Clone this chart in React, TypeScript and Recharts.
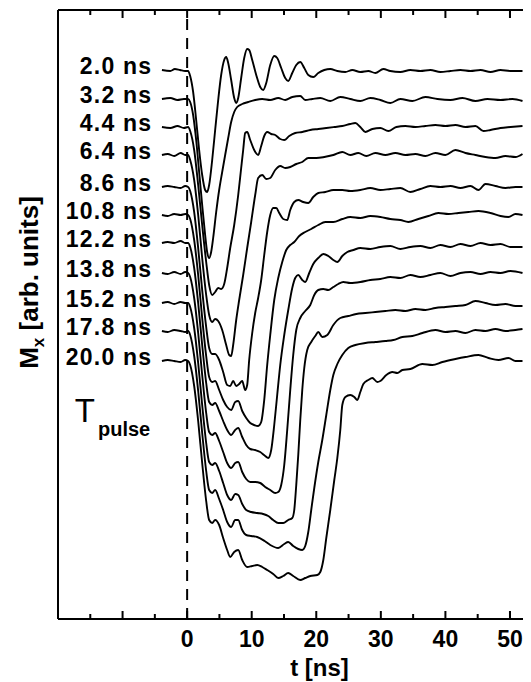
import { LineChart, Line, XAxis, YAxis, ReferenceLine, ReferenceDot, Label } from 'recharts';

type Pt = [number, number];

const FONT = '"Liberation Sans", Arial, Helvetica, sans-serif';

// pulse lengths, top to bottom
const pulseLabels = ['2.0 ns', '3.2 ns', '4.4 ns', '6.4 ns', '8.6 ns', '10.8 ns', '12.2 ns', '13.8 ns', '15.2 ns', '17.8 ns', '20.0 ns'];
// vertical offset of each trace (arb. units)
const offsets = [549, 520, 492, 464, 432, 404, 376, 346, 316, 288, 258];

const xTicks = [-20, -15, -10, -5, 0, 5, 10, 15, 20, 25, 30, 35, 40, 45, 50, 55, 60];
const labelledTicks = [0, 10, 20, 30, 40, 50];

// [t (ns), Mx change (arb. units)]
const trace20: Pt[] = [[-3.9,0],[-2.6,-1],[-1.9,1],[-1.1,0],[-0.3,-1],[0.15,-1],[0.47,-6],[0.93,-22],[1.4,-50],[1.86,-80],[2.33,-105],[2.79,-120],[3.1,-122],[3.41,-115],[3.88,-90],[4.34,-60],[4.81,-30],[5.27,-5],[5.74,10],[6.05,13],[6.36,7],[6.82,-10],[7.29,-28],[7.6,-33],[7.91,-28],[8.37,-8],[8.84,12],[9.3,21],[9.61,20],[10.08,10],[10.7,-5],[11.32,-17],[11.78,-20],[12.25,-13],[12.87,5],[13.49,14],[13.95,12],[14.57,2],[15.19,-8],[15.66,-11],[16.28,-3],[16.9,5],[17.52,8],[18.14,2],[18.76,-5],[19.53,-7],[20.31,-3],[21.24,0],[22.17,1],[23.26,-1],[24.5,-2],[25.58,0],[26.82,-2],[28.06,-1],[29.15,-3],[30.39,1],[31.47,-1],[33.02,-2],[34.57,0],[36.12,-1],[37.67,0],[39.22,-2],[40.78,-1],[42.33,0],[43.88,-1],[45.43,0],[46.98,-2],[48.53,0],[50.08,-1],[51.94,-1]];
const trace32: Pt[] = [[-3.9,0],[-2.6,1],[-1.5,-1],[-0.5,0],[0.15,0],[0.47,-3],[0.93,-16],[1.4,-41],[1.86,-73],[2.33,-106],[2.79,-136],[3.1,-153],[3.41,-159],[3.72,-153],[4.03,-139],[4.5,-113],[4.96,-91],[5.43,-73],[5.89,-56],[6.36,-39],[6.82,-23],[7.29,-13],[7.75,-8],[8.53,-5],[9.46,-3],[10.54,-1],[11.63,0],[12.87,-1],[14.11,1],[15.19,-1],[16.28,2],[17.52,3],[18.29,-1],[19.38,0],[20.62,1],[22.17,-2],[23.72,2],[25.27,0],[26.82,-2],[28.37,1],[29.92,-1],[31.47,-4],[33.02,0],[34.88,-2],[36.9,2],[38.76,0],[40.78,-1],[42.64,1],[44.65,-2],[46.51,0],[48.53,-1],[50.39,0],[51.94,-2]];
const trace44: Pt[] = [[-3.9,0],[-2.6,-1],[-1.5,1],[-0.5,-1],[0.15,0],[0.47,-4],[1.09,-23],[1.71,-58],[2.33,-98],[2.95,-135],[3.41,-158],[3.88,-168],[4.34,-165],[4.81,-161],[5.27,-162],[5.74,-157],[6.2,-141],[6.67,-121],[7.29,-98],[7.91,-68],[8.37,-41],[8.68,-23],[8.99,-6],[9.3,-5],[9.77,-13],[10.39,-23],[11.0,-28],[11.47,-19],[11.94,-9],[12.4,-5],[13.02,-7],[13.64,-8],[14.42,-12],[15.04,-13],[15.81,-9],[16.74,-6],[17.83,-5],[19.07,-3],[20.31,-2],[21.55,-1],[22.79,0],[24.03,1],[25.27,3],[26.05,4],[26.82,0],[27.6,-5],[28.68,-2],[29.92,-1],[31.16,-4],[32.4,0],[33.8,1],[35.35,0],[36.9,1],[38.45,2],[40.0,1],[41.55,2],[43.1,0],[44.65,1],[45.89,-4],[46.98,-3],[48.53,-1],[50.08,0],[51.94,1]];
const trace64: Pt[] = [[-3.9,0],[-3,1],[-2,-1],[-1,2],[-0.3,0],[0.15,0],[0.47,-5],[1.09,-25],[1.71,-60],[2.33,-103],[2.95,-140],[3.41,-160],[3.88,-167],[4.34,-164],[4.81,-166],[5.43,-175],[6.05,-190],[6.51,-200],[6.82,-201],[7.13,-190],[7.6,-165],[8.06,-145],[8.68,-120],[9.3,-93],[9.92,-67],[10.54,-40],[11.0,-23],[11.63,-20],[12.25,-24],[12.87,-23],[13.64,-15],[14.42,-11],[15.19,-13],[15.97,-12],[16.9,-9],[17.83,-7],[18.76,-3],[20.0,-3],[21.24,-2],[22.64,0],[24.03,3],[25.27,0],[26.51,2],[27.75,-1],[29.15,2],[30.7,0],[32.25,2],[33.8,0],[35.35,1],[36.9,-1],[38.45,2],[40.0,0],[41.55,5],[43.1,2],[44.65,0],[46.2,-2],[47.75,-3],[49.3,-1],[50.85,-2],[51.94,1]];
const trace86: Pt[] = [[-3.9,0],[-3,1],[-2,0],[-1,-1],[-0.3,1],[0.15,0],[0.47,-4],[1.09,-25],[1.71,-61],[2.33,-103],[2.95,-140],[3.41,-161],[3.88,-167],[4.34,-167],[4.96,-173],[5.58,-185],[6.2,-198],[6.67,-199],[7.13,-194],[7.6,-199],[8.06,-197],[8.53,-194],[8.99,-203],[9.3,-198],[9.61,-173],[10.08,-146],[10.54,-126],[11.0,-111],[11.47,-93],[11.94,-68],[12.4,-45],[12.87,-28],[13.33,-21],[13.8,-21],[14.26,-26],[14.88,-32],[15.5,-33],[15.97,-23],[16.59,-15],[17.21,-13],[17.98,-15],[18.76,-16],[19.53,-10],[20.31,-6],[21.4,-5],[22.64,-3],[24.03,-3],[25.27,-4],[26.82,-3],[28.37,-1],[29.92,-3],[31.47,-2],[33.02,-1],[34.57,-5],[36.12,-2],[37.67,1],[39.22,0],[40.78,1],[42.33,-1],[43.88,1],[45.12,-3],[46.2,3],[47.75,1],[49.3,-1],[50.85,0],[51.94,0]];
const trace108: Pt[] = [[-3.9,0],[-3,-1],[-2,1],[-1,0],[-0.3,1],[0.15,0],[0.47,-4],[1.09,-25],[1.71,-60],[2.33,-103],[2.95,-141],[3.41,-162],[3.88,-167],[4.34,-166],[4.96,-175],[5.58,-185],[6.2,-192],[6.82,-195],[7.44,-187],[7.91,-186],[8.53,-196],[9.15,-203],[9.77,-208],[10.39,-210],[11.0,-211],[11.47,-207],[11.94,-185],[12.4,-150],[12.87,-120],[13.49,-85],[14.11,-63],[14.73,-47],[15.35,-35],[15.97,-30],[16.59,-27],[17.36,-21],[18.29,-17],[19.22,-14],[20.31,-10],[21.4,-7],[22.64,-7],[24.03,-4],[25.27,-2],[26.82,-3],[28.37,-1],[29.92,-2],[31.47,-4],[33.02,-5],[34.26,-7],[35.81,-4],[37.36,-1],[38.91,2],[40.47,1],[42.02,2],[43.57,3],[45.12,4],[46.98,2],[48.53,-1],[49.77,-2],[50.85,1],[51.94,0]];
const trace122: Pt[] = [[-3.9,0],[-3,1],[-2,0],[-1,2],[-0.3,0],[0.15,0],[0.47,-4],[1.09,-25],[1.71,-60],[2.33,-102],[2.95,-140],[3.41,-159],[3.88,-162],[4.34,-160],[4.96,-168],[5.58,-178],[6.2,-187],[6.82,-192],[7.44,-187],[7.91,-185],[8.53,-194],[9.15,-202],[9.77,-206],[10.54,-207],[11.32,-209],[12.09,-213],[12.56,-215],[13.02,-207],[13.49,-182],[13.95,-152],[14.42,-122],[15.04,-92],[15.66,-67],[16.28,-45],[16.74,-35],[17.21,-32],[17.83,-37],[18.29,-39],[18.91,-30],[19.53,-21],[20.31,-15],[21.09,-11],[21.86,-13],[22.64,-17],[23.26,-19],[24.03,-13],[24.81,-9],[25.74,-7],[26.82,-5],[28.37,-6],[29.92,-4],[31.47,-3],[33.02,-6],[34.57,-4],[36.12,-3],[37.67,-5],[39.22,-2],[40.78,-4],[42.33,-1],[43.88,-3],[45.43,0],[46.98,-2],[48.53,-1],[50.08,-4],[51.94,-4]];
const trace138: Pt[] = [[-3.9,0],[-3,-1],[-2,1],[-1,-1],[-0.3,1],[0.15,0],[0.47,-4],[1.09,-25],[1.71,-60],[2.33,-102],[2.95,-140],[3.41,-159],[3.88,-162],[4.34,-160],[4.96,-168],[5.58,-179],[6.2,-190],[6.82,-195],[7.44,-190],[7.91,-189],[8.53,-199],[9.15,-206],[9.77,-209],[10.54,-209],[11.32,-210],[12.09,-214],[12.87,-217],[13.64,-220],[14.11,-219],[14.57,-212],[15.04,-192],[15.5,-157],[15.97,-117],[16.43,-82],[16.9,-57],[17.52,-45],[18.29,-38],[19.07,-32],[19.69,-22],[20.31,-17],[21.09,-16],[21.86,-17],[22.64,-14],[23.41,-11],[24.19,-9],[25.27,-10],[26.82,-9],[28.37,-7],[29.92,-6],[31.47,-4],[33.02,-5],[34.57,-2],[36.12,-4],[37.67,-2],[39.22,0],[40.78,-3],[42.33,0],[43.88,1],[45.43,-1],[46.98,1],[48.53,0],[50.08,2],[51.94,0]];
const trace152: Pt[] = [[-3.9,0],[-3,1],[-2,-1],[-1,1],[-0.3,0],[0.15,0],[0.47,-4],[1.09,-25],[1.71,-60],[2.33,-102],[2.95,-140],[3.41,-159],[3.88,-162],[4.34,-160],[4.96,-168],[5.58,-180],[6.2,-192],[6.82,-197],[7.44,-191],[7.91,-192],[8.53,-201],[9.15,-207],[9.92,-209],[10.85,-210],[11.78,-211],[12.56,-213],[13.33,-217],[14.11,-220],[14.88,-220],[15.66,-217],[16.28,-215],[16.59,-207],[16.9,-182],[17.21,-152],[17.52,-117],[17.83,-87],[18.14,-65],[18.6,-47],[19.22,-39],[19.84,-33],[20.31,-29],[20.93,-34],[21.71,-32],[22.64,-22],[23.72,-15],[24.96,-13],[26.2,-11],[27.6,-10],[29.15,-9],[30.7,-8],[32.25,-7],[33.8,-8],[35.35,-6],[36.9,-7],[38.45,-5],[40.0,-4],[41.55,-3],[43.1,-2],[44.65,2],[46.2,0],[47.75,-2],[49.3,-1],[50.85,-3],[51.94,-3]];
const trace178: Pt[] = [[-3.9,0],[-3,-1],[-2,1],[-1,0],[-0.3,-1],[0.15,0],[0.47,-4],[1.09,-25],[1.71,-60],[2.33,-102],[2.95,-140],[3.41,-159],[3.88,-162],[4.34,-159],[4.96,-168],[5.58,-179],[6.2,-191],[6.82,-196],[7.44,-189],[7.91,-189],[8.53,-199],[9.15,-204],[9.92,-205],[10.85,-206],[12.0,-210],[12.87,-214],[14.11,-217],[15.04,-213],[15.66,-211],[16.43,-215],[17.21,-218],[17.83,-219],[18.29,-215],[18.76,-201],[19.22,-179],[19.69,-157],[20.31,-131],[20.93,-109],[21.55,-84],[22.17,-59],[22.64,-44],[23.26,-33],[24.03,-24],[24.96,-17],[26.05,-14],[27.6,-12],[29.15,-11],[30.7,-10],[31.94,-9],[33.33,-6],[34.88,-5],[36.43,-2],[38.45,1],[40.0,-1],[41.55,0],[43.1,-2],[44.65,1],[46.2,0],[47.75,2],[49.3,0],[50.85,1],[51.94,2]];
const trace200: Pt[] = [[-3.9,0],[-3,1],[-2,0],[-1,-1],[-0.3,1],[0.15,0],[0.47,-4],[1.09,-25],[1.71,-60],[2.33,-102],[2.95,-140],[3.41,-159],[3.88,-162],[4.34,-159],[4.96,-164],[5.58,-177],[6.2,-189],[6.67,-196],[7.29,-191],[7.91,-189],[8.53,-199],[9.3,-206],[10.08,-205],[10.85,-204],[11.63,-206],[12.4,-209],[13.33,-213],[14.11,-217],[14.88,-215],[15.66,-212],[16.43,-215],[17.52,-219],[18.29,-217],[19.07,-215],[20.16,-214],[20.62,-211],[21.09,-199],[21.55,-177],[22.17,-149],[22.79,-119],[23.26,-97],[23.72,-69],[24.03,-44],[24.5,-36],[25.27,-34],[25.89,-36],[26.36,-39],[26.82,-31],[27.29,-23],[28.06,-19],[28.68,-17],[29.46,-21],[29.92,-20],[30.85,-14],[31.78,-11],[32.56,-12],[33.33,-9],[34.57,-8],[36.43,-3],[37.98,-4],[39.53,-1],[41.55,2],[43.1,4],[45.12,6],[46.67,3],[48.22,1],[49.77,3],[50.85,0],[51.94,0]];

const traces = [trace20, trace32, trace44, trace64, trace86, trace108, trace122, trace138, trace152, trace178, trace200];

const series = traces.map((pts, i) => pts.map(([t, mx]) => ({ t, v: offsets[i] + mx })));

const renderBottomTick = (props: any) => {
  const { x, y, payload } = props;
  const val = payload.value;
  const major = val % 10 === 0;
  return (
    <g>
      <line x1={x} x2={x} y1={y} y2={y - (major ? 8 : 5)} stroke="#000" strokeWidth={2} />
      {labelledTicks.includes(val) && (
        <text x={x} y={y + 28} textAnchor="middle" fontSize={23} fontWeight="bold" fontFamily={FONT} fill="#000">
          {val}
        </text>
      )}
    </g>
  );
};

const renderTopTick = (props: any) => {
  const { x, y, payload } = props;
  const major = payload.value % 10 === 0;
  return <line x1={x} x2={x} y1={y} y2={y + (major ? 8 : 5)} stroke="#000" strokeWidth={2} />;
};

const renderYLabel = (props: any) => {
  const { viewBox } = props;
  const cx = viewBox.x + 30;
  const cy = viewBox.y + viewBox.height / 2 - 32;
  return (
    <text x={cx} y={cy} transform={`rotate(-90, ${cx}, ${cy})`} textAnchor="middle" fontSize={26} fontWeight="bold" fontFamily={FONT} fill="#000">
      M<tspan fontSize={17} dy={6}>x</tspan>
      <tspan dy={-6}> [arb. units]</tspan>
    </text>
  );
};

const renderXLabel = (props: any) => {
  const { viewBox } = props;
  return (
    <text x={viewBox.x + viewBox.width / 2} y={viewBox.y + 57} textAnchor="middle" fontSize={24} fontWeight="bold" fontFamily={FONT} fill="#000">
      t [ns]
    </text>
  );
};

const renderTraceLabel = (props: any) => {
  const { viewBox, value } = props;
  return (
    <text x={viewBox.x} y={viewBox.y - 4} textAnchor="end" dominantBaseline="central" fontSize={23} fontWeight="bold" letterSpacing={1.2} fontFamily={FONT} fill="#000">
      {value}
    </text>
  );
};

const renderPulseLabel = (props: any) => {
  const { viewBox } = props;
  return (
    <text x={viewBox.x} y={viewBox.y} fontSize={33} fontFamily={FONT} fill="#000">
      T
      <tspan fontSize={20} fontWeight="bold" dx={3} dy={14}>pulse</tspan>
    </text>
  );
};

const App = () => {
  return (
    <div style={{ width: 523, height: 674, overflow: 'hidden' }}>
      <LineChart width={573} height={674} margin={{ top: 1, right: 0, bottom: 0, left: 0 }}>
        <XAxis
          dataKey="t"
          type="number"
          domain={[-20, 61]}
          ticks={xTicks}
          interval={0}
          allowDataOverflow
          height={63}
          tickSize={0}
          tickMargin={0}
          tickLine={false}
          axisLine={{ stroke: '#000', strokeWidth: 2 }}
          tick={renderBottomTick}
        >
          <Label content={renderXLabel} />
        </XAxis>
        <XAxis
          xAxisId="top"
          orientation="top"
          dataKey="t"
          type="number"
          domain={[-20, 61]}
          ticks={xTicks}
          interval={0}
          allowDataOverflow
          height={1}
          tickSize={0}
          tickMargin={0}
          tickLine={false}
          axisLine={{ stroke: '#000', strokeWidth: 2 }}
          tick={renderTopTick}
        />
        <YAxis
          type="number"
          domain={[0, 609]}
          allowDataOverflow
          width={50}
          tick={false}
          tickLine={false}
          axisLine={{ stroke: '#000', strokeWidth: 2 }}
        >
          <Label content={renderYLabel} />
        </YAxis>
        <ReferenceLine x={0} stroke="#000" strokeWidth={2} strokeDasharray="11 8" />
        {series.map((data, i) => (
          <Line
            key={pulseLabels[i]}
            data={data}
            dataKey="v"
            type="monotone"
            stroke="#000"
            strokeWidth={1.9}
            dot={false}
            isAnimationActive={false}
          />
        ))}
        {pulseLabels.map((lbl, i) => (
          <ReferenceDot
            key={'l' + lbl}
            x={-5.4}
            y={offsets[i]}
            r={0}
            fill="none"
            stroke="none"
            label={{ value: lbl, content: renderTraceLabel }}
          />
        ))}
        <ReferenceDot x={-17.4} y={197} r={0} fill="none" stroke="none" label={{ content: renderPulseLabel }} />
      </LineChart>
    </div>
  );
};

export default App;
